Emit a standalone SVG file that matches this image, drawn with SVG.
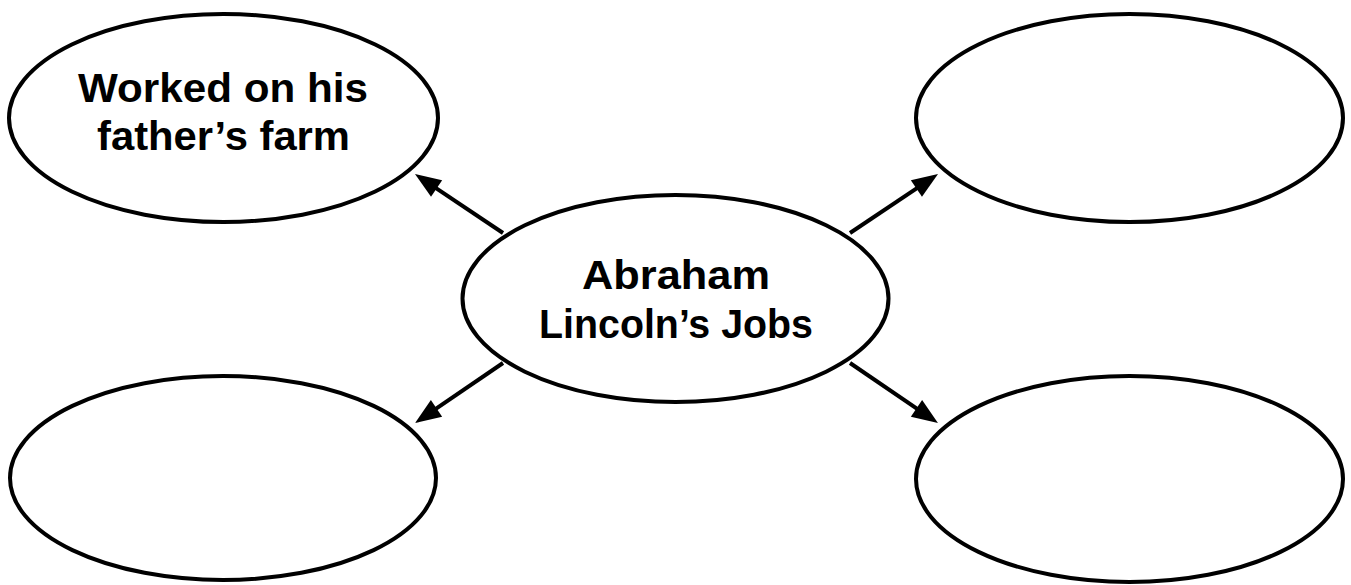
<svg xmlns="http://www.w3.org/2000/svg" width="1351" height="585" viewBox="0 0 1351 585">
<style>
.node ellipse{fill:#fff;stroke:#000;stroke-width:4}
.lbl{font-family:"Liberation Sans",Arial,sans-serif;font-weight:bold;font-size:40px;fill:#000;text-anchor:middle}
.conn line{stroke:#000;stroke-width:4}
</style>
<defs>
<marker id="ah" markerUnits="userSpaceOnUse" markerWidth="26" markerHeight="20" refX="16" refY="10" orient="auto" overflow="visible">
<path d="M0,0 L26,10 L0,20 z" fill="#000"/>
</marker>
</defs>
<rect width="1351" height="585" fill="#fff"/>
<g id="connectors" class="conn">
<line x1="503" y1="233" x2="423.3" y2="179.6" marker-end="url(#ah)"/>
<line x1="850" y1="233" x2="929.7" y2="179.6" marker-end="url(#ah)"/>
<line x1="503" y1="363" x2="423.3" y2="417.4" marker-end="url(#ah)"/>
<line x1="850" y1="363" x2="929.7" y2="417.4" marker-end="url(#ah)"/>
</g>
<g id="node-farm" class="node">
<ellipse cx="223.5" cy="118" rx="214.5" ry="104"/>
<text class="lbl" x="223" y="102" textLength="290" lengthAdjust="spacingAndGlyphs">Worked on his</text>
<text class="lbl" x="223.5" y="150" textLength="253" lengthAdjust="spacingAndGlyphs">father’s farm</text>
</g>
<g id="node-top-right" class="node">
<ellipse cx="1129.5" cy="118" rx="213.5" ry="104"/>
</g>
<g id="node-center" class="node">
<ellipse cx="675.5" cy="298.5" rx="213" ry="103.5"/>
<text class="lbl" x="676" y="289" textLength="188" lengthAdjust="spacingAndGlyphs">Abraham</text>
<text class="lbl" x="676" y="338" textLength="274" lengthAdjust="spacingAndGlyphs">Lincoln’s Jobs</text>
</g>
<g id="node-bottom-left" class="node">
<ellipse cx="223" cy="478" rx="213" ry="102"/>
</g>
<g id="node-bottom-right" class="node">
<ellipse cx="1129.5" cy="479" rx="213.5" ry="103"/>
</g>
</svg>
